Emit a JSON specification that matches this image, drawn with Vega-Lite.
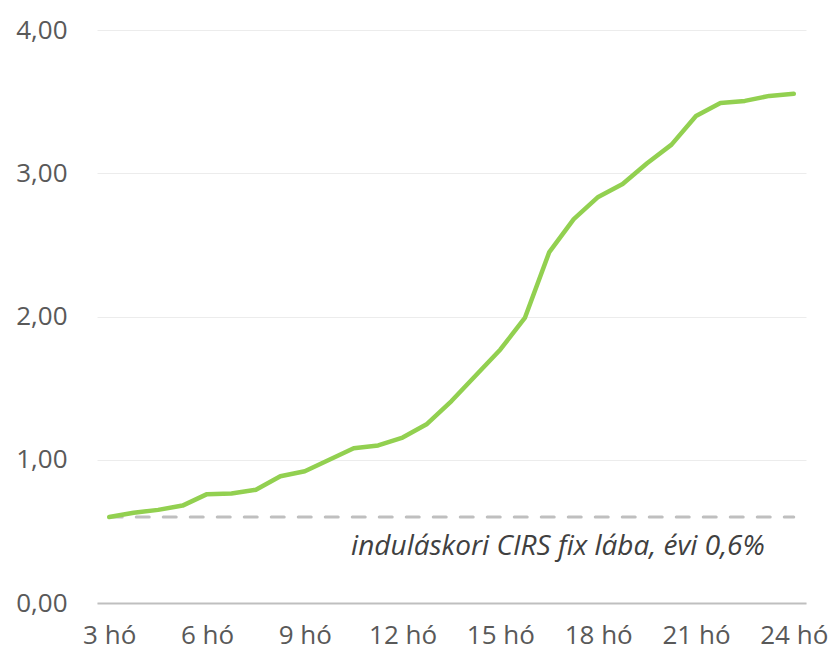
{
  "$schema": "https://vega.github.io/schema/vega-lite/v6.json",
  "width": 709,
  "height": 573,
  "autosize": {"type": "none"},
  "padding": {"left": 97, "top": 30, "right": 26, "bottom": 52},
  "background": "white",
  "config": {"view": {"stroke": null}, "font": "Open Sans"},
  "datasets": {
    "series": [
      {"m": 3.00, "v": 0.600}, {"m": 3.75, "v": 0.630}, {"m": 4.50, "v": 0.650}, {"m": 5.25, "v": 0.680},
      {"m": 6.00, "v": 0.760}, {"m": 6.75, "v": 0.765}, {"m": 7.50, "v": 0.790}, {"m": 8.25, "v": 0.885},
      {"m": 9.00, "v": 0.920}, {"m": 9.75, "v": 1.000}, {"m": 10.50, "v": 1.080}, {"m": 11.25, "v": 1.100},
      {"m": 12.00, "v": 1.155}, {"m": 12.75, "v": 1.250}, {"m": 13.50, "v": 1.410}, {"m": 14.25, "v": 1.590},
      {"m": 15.00, "v": 1.770}, {"m": 15.75, "v": 1.990}, {"m": 16.50, "v": 2.450}, {"m": 17.25, "v": 2.680},
      {"m": 18.00, "v": 2.835}, {"m": 18.75, "v": 2.925}, {"m": 19.50, "v": 3.070}, {"m": 20.25, "v": 3.200},
      {"m": 21.00, "v": 3.400}, {"m": 21.75, "v": 3.490}, {"m": 22.50, "v": 3.505}, {"m": 23.25, "v": 3.540},
      {"m": 24.00, "v": 3.555}
    ],
    "fix": [{"m": 3, "v": 0.6}, {"m": 24, "v": 0.6}],
    "note": [{"m": 23.11, "v": 0.334, "t": "induláskori CIRS fix lába, évi 0,6%"}]
  },
  "layer": [
    {
      "data": {"name": "fix"},
      "mark": {"type": "line", "color": "#bfbfbf", "strokeWidth": 3, "strokeDash": [13, 14], "strokeCap": "round"},
      "encoding": {
        "x": {"field": "m", "type": "quantitative", "scale": {"domain": [2.625, 24.375], "nice": false, "zero": false},
          "axis": {"values": [3, 6, 9, 12, 15, 18, 21, 24], "labelExpr": "datum.value + ' hó'", "grid": false, "ticks": false,
            "domainColor": "#bfbfbf", "domainWidth": 2, "labelFontSize": 26, "labelColor": "#595959", "labelPadding": 19, "title": null, "labelFlush": false}},
        "y": {"field": "v", "type": "quantitative", "scale": {"domain": [0, 4], "nice": false},
          "axis": {"values": [0, 1, 2, 3, 4], "format": ".2f", "labelExpr": "replace(datum.label, '.', ',')", "domain": false, "ticks": false,
            "gridColor": "#ececec", "gridWidth": 1, "labelFontSize": 26, "labelColor": "#595959", "labelPadding": 30, "title": null}}
      }
    },
    {
      "data": {"name": "series"},
      "mark": {"type": "line", "color": "#92d050", "strokeWidth": 4.5, "strokeCap": "round", "strokeJoin": "round"},
      "encoding": {
        "x": {"field": "m", "type": "quantitative"},
        "y": {"field": "v", "type": "quantitative"}
      }
    },
    {
      "data": {"name": "note"},
      "mark": {"type": "text", "align": "right", "baseline": "alphabetic", "fontSize": 28, "fontStyle": "italic", "color": "#404040", "font": "Open Sans"},
      "encoding": {
        "x": {"field": "m", "type": "quantitative"},
        "y": {"field": "v", "type": "quantitative"},
        "text": {"field": "t"}
      }
    }
  ]
}
